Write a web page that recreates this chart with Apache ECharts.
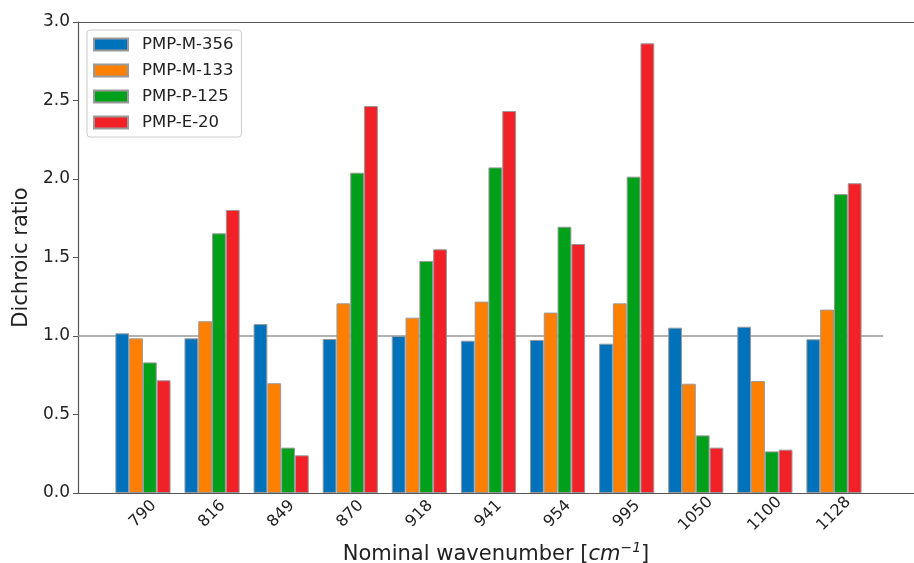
<!DOCTYPE html>
<html>
<head>
<meta charset="utf-8">
<script src="https://cdn.jsdelivr.net/npm/echarts@6/dist/echarts.min.js"></script>
<style>
  html, body { margin: 0; padding: 0; background: #fff; }
  #chart { width: 914px; height: 563px; }
</style>
</head>
<body>
<div id="chart"></div>
<script>
// wavenumber categories
const categories = ["790", "816", "849", "870", "918", "941", "954", "995", "1050", "1100", "1128"];
const seriesNames = ["PMP-M-356", "PMP-M-133", "PMP-P-125", "PMP-E-20"];
const pmpM356 = [1.017, 0.985, 1.076, 0.981, 1.0, 0.970, 0.975, 0.951, 1.053, 1.059, 0.979];
const pmpM133 = [0.985, 1.094, 0.699, 1.208, 1.117, 1.219, 1.149, 1.208, 0.696, 0.713, 1.168];
const pmpP125 = [0.832, 1.654, 0.289, 2.040, 1.478, 2.074, 1.696, 2.015, 0.367, 0.265, 1.904];
const pmpE20 = [0.718, 1.803, 0.240, 2.465, 1.552, 2.433, 1.586, 2.864, 0.289, 0.276, 1.973];
const yTicks = [0, 0.5, 1.0, 1.5, 2.0, 2.5, 3.0];
// reference line y = 1
const refLine = [[-0.94, 1], [10.71, 1]];

const colors = ["#0072BB", "#FF8000", "#00A01A", "#F22128"];
const font = "DejaVu Sans";

let chart = echarts.init(document.getElementById("chart"));

const allData = [pmpM356, pmpM133, pmpP125, pmpE20];
let barSeries = allData.map((vals, s) => ({
  name: seriesNames[s],
  type: "bar",
  barWidth: 13.8,
  barGap: "0%",
  z: 3,
  itemStyle: { color: colors[s], borderColor: "#999", borderWidth: 1 },
  data: vals.map((v, i) => [i, v]),
}));

let option = {
  animation: false,
  color: colors,
  grid: { left: 78, right: 0, top: 22, bottom: 70, outerBoundsMode: "none", containLabel: false },
  legend: {
    orient: "vertical",
    left: 87,
    top: 30,
    data: seriesNames,
    icon: "rect",
    itemWidth: 34,
    itemHeight: 12,
    itemGap: 9,
    padding: [6, 8, 6, 6],
    borderColor: "#ccc",
    borderWidth: 1,
    borderRadius: 3,
    backgroundColor: "rgba(255,255,255,0.85)",
    textStyle: { fontFamily: font, fontSize: 16.5, color: "#222", lineHeight: 16, padding: [0, 0, 0, 9] },
  },
  xAxis: [
    {
      type: "value",
      min: -0.94,
      max: 11.158,
      name: "Nominal wavenumber [{i|cm}{s|−1}]",
      nameLocation: "middle",
      nameGap: 44,
      nameTextStyle: {
        fontFamily: font,
        fontSize: 21,
        color: "#222",
        rich: {
          i: { fontFamily: font, fontSize: 21, fontStyle: "italic", color: "#222" },
          s: { fontFamily: font, fontSize: 14, fontStyle: "italic", color: "#222", padding: [0, 0, 13, 0] },
        },
      },
      axisLine: { show: true, onZero: false, lineStyle: { color: "#555", width: 1.2 } },
      axisTick: { show: false },
      splitLine: { show: false },
      axisLabel: {
        customValues: categories.map((c, i) => i),
        formatter: (v) => categories[Math.round(v)],
        rotate: 45,
        align: "center",
        verticalAlign: "middle",
        fontFamily: font,
        fontSize: 16,
        color: "#222",
        margin: 21,
      },
    },
    {
      type: "value",
      position: "top",
      min: -0.94,
      max: 11.158,
      axisLine: { show: true, onZero: false, lineStyle: { color: "#555", width: 1.2 } },
      axisTick: { show: false },
      axisLabel: { show: false },
      splitLine: { show: false },
    },
  ],
  yAxis: {
    type: "value",
    min: 0,
    max: 3,
    interval: 0.5,
    name: "Dichroic ratio",
    nameLocation: "middle",
    nameGap: 31,
    nameTextStyle: { fontFamily: font, fontSize: 21, color: "#222" },
    axisLine: { show: true, onZero: false, lineStyle: { color: "#555", width: 1.2 } },
    axisTick: { show: true, length: 5, lineStyle: { color: "#555" } },
    splitLine: { show: false },
    axisLabel: {
      customValues: yTicks,
      formatter: (v) => v.toFixed(1),
      fontFamily: font,
      fontSize: 17,
      color: "#222",
      margin: 8,
    },
  },
  series: [
    {
      type: "line",
      data: refLine,
      z: 1,
      symbol: "none",
      silent: true,
      lineStyle: { color: "#999", width: 1.5 },
    },
    ...barSeries,
  ],
};

chart.setOption(option);
</script>
</body>
</html>
